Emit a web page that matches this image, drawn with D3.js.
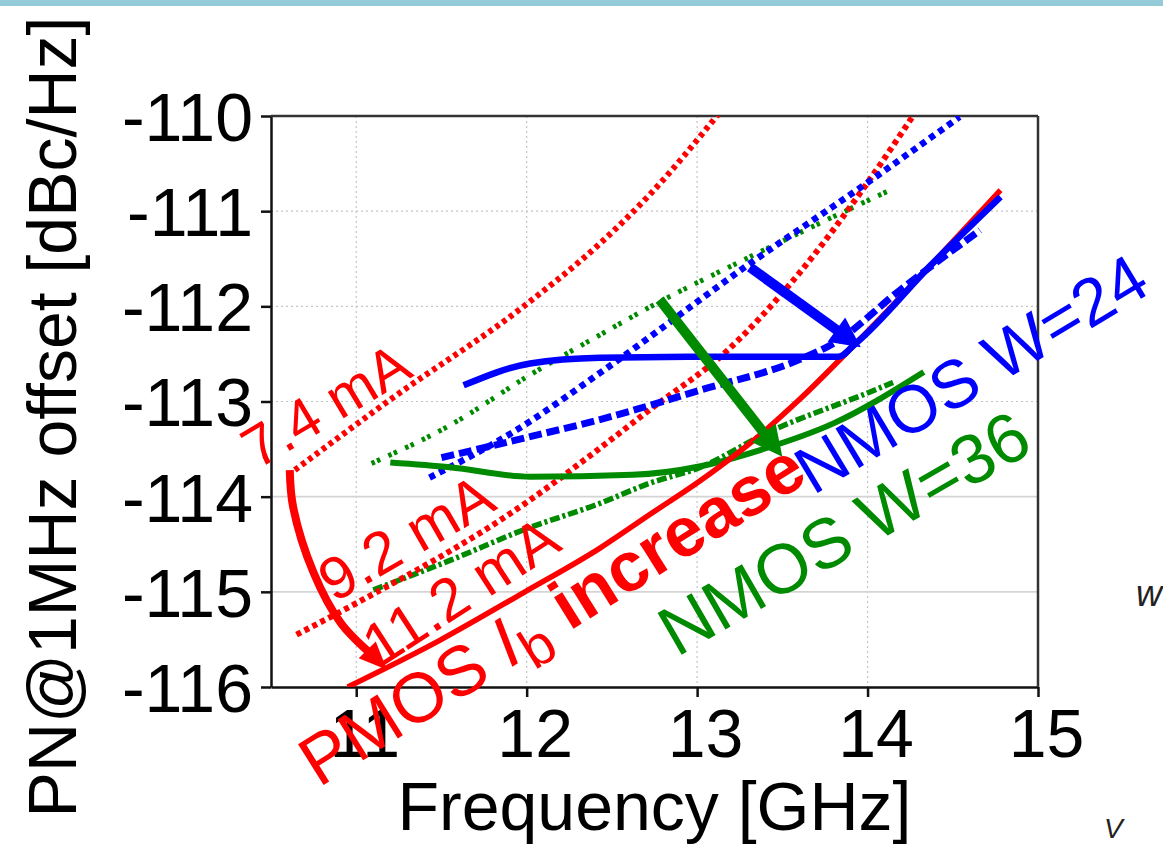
<!DOCTYPE html>
<html>
<head>
<meta charset="utf-8">
<script src="https://cdn.jsdelivr.net/npm/d3@7"></script>
<style>
  body { margin: 0; background: #fff; }
  svg text { font-family: "Liberation Sans", Arial, sans-serif; }
</style>
</head>
<body>
<svg id="chart" width="1163" height="845"></svg>
<script>
// tick values
var xTicks = [11, 12, 13, 14, 15];
var yTicks = [-110, -111, -112, -113, -114, -115, -116];

// PMOS bias current sweep (red): 7.4 mA, 9.2 mA, 11.2 mA
var red74 = [[10.64,-113.72],[11.2,-112.98],[11.99,-111.99],[12.43,-111.34],[12.72,-110.83],[13.12,-109.99]];
var red92 = [[10.65,-115.45],[11.0,-115.12],[12.0,-114.06],[12.43,-113.49],[12.72,-113.09],[13.18,-112.46],[13.6,-111.65],[14.0,-110.7],[14.27,-109.99]];
var red112 = [[10.95,-116.0],[11.49,-115.51],[11.98,-115.01],[12.43,-114.54],[12.72,-114.19],[13.02,-113.83],[13.37,-113.35],[13.6,-112.98],[13.92,-112.41],[14.37,-111.57],[14.78,-110.78]];

// NMOS W=24 (blue)
var blue74 = [[11.43,-113.8],[11.94,-113.3],[12.43,-112.7],[13.31,-111.55],[14.0,-110.7],[14.54,-110.01]];
var blue92 = [[11.5,-113.59],[12.02,-113.37],[12.43,-113.19],[13.02,-112.88],[13.6,-112.56],[13.8,-112.39],[14.19,-111.83],[14.66,-111.2]];
var blue112 = [[11.63,-112.83],[12.02,-112.6],[12.43,-112.54],[13.02,-112.53],[13.83,-112.53],[13.93,-112.39],[14.37,-111.57],[14.78,-110.85]];

// NMOS W=36 (green)
var green74 = [[11.09,-113.65],[11.55,-113.25],[12.02,-112.72],[12.45,-112.28],[12.72,-112.01],[13.31,-111.48],[14.13,-110.78]];
var green92 = [[11.1,-114.98],[11.55,-114.67],[11.98,-114.35],[12.43,-114.07],[12.72,-113.86],[13.02,-113.69],[13.41,-113.33],[14.0,-112.91],[14.15,-112.8]];
var green112 = [[11.2,-113.64],[11.55,-113.69],[12.02,-113.79],[12.62,-113.77],[13.02,-113.68],[13.37,-113.51],[13.8,-113.23],[14.33,-112.69]];

// annotation arrows
var redArrow = [[10.61,-113.72],[10.63,-114.11],[10.75,-114.8],[10.91,-115.33],[11.18,-115.82]];
var blueArrow = [[13.31,-111.59],[13.96,-112.43]];
var greenArrow = [[12.78,-111.93],[13.5,-113.58]];

var RED = "#ff0000", BLUE = "#0000ff", GREEN = "#008a00";

var svg = d3.select("#chart");
var x = d3.scaleLinear().domain([10.5, 15]).range([271, 1038]);
var y = d3.scaleLinear().domain([-116, -110]).range([687, 116]);

// slide strip on top
svg.append("rect").attr("x", 0).attr("y", 0).attr("width", 1163).attr("height", 6).attr("fill", "#93cbd8");

// grid
svg.append("g").selectAll("line").data(xTicks.slice(0, 4)).join("line")
  .attr("x1", d => x(d)).attr("x2", d => x(d))
  .attr("y1", y(-110)).attr("y2", y(-116))
  .attr("stroke", "#c4c4c4").attr("stroke-width", 1.2).attr("stroke-dasharray", "2 3");
svg.append("g").selectAll("line").data([-111, -112, -113, -114, -115]).join("line")
  .attr("x1", x(10.5)).attr("x2", x(15))
  .attr("y1", d => y(d)).attr("y2", d => y(d))
  .attr("stroke", d => d <= -114 ? "#d4d4d4" : "#c4c4c4")
  .attr("stroke-width", d => d <= -114 ? 1.8 : 1.2)
  .attr("stroke-dasharray", d => d <= -114 ? null : "2 3");

// axes
var xAxis = d3.axisBottom(x).tickValues(xTicks).tickSize(10).tickSizeOuter(0).tickFormat(d3.format("d"));
var yAxis = d3.axisLeft(y).tickValues(yTicks).tickSize(10).tickSizeOuter(0).tickFormat(d => d3.format("d")(d).replace("−", "-"));

var gx = svg.append("g").attr("transform", "translate(0," + y(-116) + ")").call(xAxis);
var gy = svg.append("g").attr("transform", "translate(" + x(10.5) + ",0)").call(yAxis);
[gx, gy].forEach(g => {
  g.select(".domain").attr("stroke", "#111").attr("stroke-width", 2.5);
  g.selectAll(".tick line").attr("stroke", "#111").attr("stroke-width", 2.5);
  g.selectAll(".tick text").attr("fill", "#000").style("font-size", "68px")
   .style("font-family", "'Liberation Sans', Arial, sans-serif");
});
gx.selectAll(".tick text").attr("x", 8).attr("y", 22).attr("dy", "0.71em");
gy.selectAll(".tick text").attr("x", -18).attr("dy", "0.36em");

// top and right frame
svg.append("line").attr("x1", x(10.5)).attr("x2", x(15)).attr("y1", y(-110)).attr("y2", y(-110))
  .attr("stroke", "#333").attr("stroke-width", 2.5);
svg.append("line").attr("x1", x(15)).attr("x2", x(15)).attr("y1", y(-110)).attr("y2", y(-116))
  .attr("stroke", "#333").attr("stroke-width", 2.5);

// axis titles
svg.append("text").attr("x", x(12.75)).attr("y", 830).attr("text-anchor", "middle")
  .style("font-size", "68px").text("Frequency [GHz]");
svg.append("text").attr("transform", "translate(76,417) rotate(-90)").attr("text-anchor", "middle")
  .style("font-size", "68px").text("PN@1MHz offset [dBc/Hz]");

// clip for curves
svg.append("clipPath").attr("id", "plotclip").append("rect")
  .attr("x", x(10.5)).attr("y", y(-110)).attr("width", x(15) - x(10.5)).attr("height", y(-116) - y(-110));

var line = d3.line().x(d => x(d[0])).y(d => y(d[1])).curve(d3.curveMonotoneX);
var plot = svg.append("g").attr("clip-path", "url(#plotclip)");

var series = [
  { data: green74, color: GREEN, width: 5, dash: "3.5 2.5 3.5 9" },
  { data: green92, color: GREEN, width: 5.5, dash: "10 3 3 3" },
  { data: red74, color: RED, width: 6, dash: "4.5 4" },
  { data: red92, color: RED, width: 6, dash: "5 4" },
  { data: blue74, color: BLUE, width: 6.5, dash: "6 5" },
  { data: blue92, color: BLUE, width: 7, dash: "13 5" },
  { data: green112, color: GREEN, width: 6, dash: null },
  { data: red112, color: RED, width: 5.5, dash: null },
  { data: blue112, color: BLUE, width: 6.5, dash: null }
];
plot.selectAll("path.series").data(series).join("path").attr("class", "series")
  .attr("d", d => line(d.data)).attr("fill", "none")
  .attr("stroke", d => d.color).attr("stroke-width", d => d.width)
  .attr("stroke-dasharray", d => d.dash);

// arrows: shaft trimmed by the head length, then a filled head
var arrowLine = d3.line().curve(d3.curveCatmullRom);
function arrow(pts, color, width, len, half) {
  var px = pts.map(d => [x(d[0]), y(d[1])]);
  var b = px[px.length - 1], a = px[px.length - 2];
  var ang = Math.atan2(b[1] - a[1], b[0] - a[0]);
  var c = [b[0] - len * Math.cos(ang), b[1] - len * Math.sin(ang)];
  var shaft = px.slice(0, -1).concat([[b[0] - len * 0.7 * Math.cos(ang), b[1] - len * 0.7 * Math.sin(ang)]]);
  svg.append("path").attr("d", arrowLine(shaft)).attr("fill", "none")
    .attr("stroke", color).attr("stroke-width", width);
  var nx = -Math.sin(ang) * half, ny = Math.cos(ang) * half;
  svg.append("path")
    .attr("d", "M" + b[0] + "," + b[1] + "L" + (c[0] + nx) + "," + (c[1] + ny) + "L" + (c[0] - nx) + "," + (c[1] - ny) + "Z")
    .attr("fill", color);
}
arrow(redArrow, RED, 8, 28, 12);
arrow(blueArrow, BLUE, 10, 30, 15);
arrow(greenArrow, GREEN, 10, 30, 15);

// labels
function label(f, pn, angle, color, size) {
  return svg.append("text")
    .attr("transform", "translate(" + x(f) + "," + y(pn) + ") rotate(" + angle + ")")
    .attr("fill", color).style("font-size", size + "px");
}
label(10.42, -113.72, -31, RED, 58).text("7.4 mA");
label(10.87, -115.12, -30, RED, 60).text("9.2 mA");
label(11.14, -115.80, -33, RED, 60).text("11.2 mA");

var pm = label(10.78, -117.06, -32, RED, 70);
pm.append("tspan").text("PMOS ");
pm.append("tspan").style("font-style", "italic").text("I");
pm.append("tspan").attr("dy", 15).style("font-size", "56px").text("b");
pm.append("tspan").attr("dy", -15).text(" ");
pm.append("tspan").style("font-weight", "bold").text("increase");

label(13.68, -113.99, -31, BLUE, 67).text("NMOS W=24");
label(12.88, -115.69, -30, GREEN, 70).text("NMOS W=36");

// cropped slide text on the right
svg.append("text").attr("x", 1136).attr("y", 606).style("font-size", "36px").style("font-style", "italic")
  .attr("fill", "#222").text("w");
svg.append("text").attr("x", 1104).attr("y", 838).style("font-size", "28px").style("font-style", "italic")
  .attr("fill", "#222").text("V");
</script>
</body>
</html>
